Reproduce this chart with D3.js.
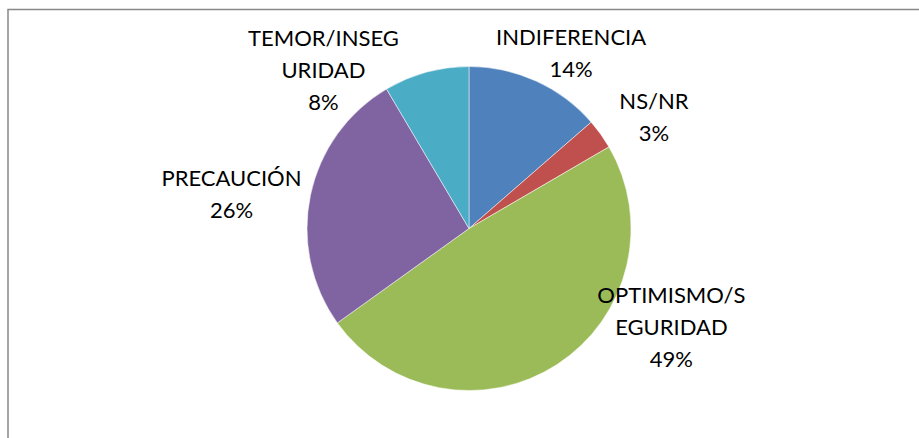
<!DOCTYPE html>
<html>
<head>
<meta charset="utf-8">
<script src="https://cdn.jsdelivr.net/npm/d3@7"></script>
<style>
  body { margin: 0; background: #fff; }
  svg text { font-family: Lato, "Liberation Sans", Arial, sans-serif; font-size: 22px; fill: #000; }
</style>
</head>
<body>
<div id="chart"></div>
<script>
// Data
var categories = ["INDIFERENCIA", "NS/NR", "OPTIMISMO/SEGURIDAD", "PRECAUCIÓN", "TEMOR/INSEGURIDAD"];
var values = [13.6, 3.0, 48.5, 26.4, 8.5];
var percentLabels = ["14%", "3%", "49%", "26%", "8%"];
// the category names as they wrap in the data labels
var labelLines = [["INDIFERENCIA"], ["NS/NR"], ["OPTIMISMO/S", "EGURIDAD"], ["PRECAUCIÓN"], ["TEMOR/INSEG", "URIDAD"]];
var colors = ["#4F81BD", "#C0504D", "#9BBB59", "#8064A2", "#4BACC6"];

// Label placement (angle in degrees clockwise from top, distance from center)
var labelPlace = [
    { angle: 30.2, dist: 203 },
    { angle: 58.9, dist: 216 },
    { angle: 115.9, dist: 225 },
    { angle: 278.3, dist: 240 },
    { angle: 317.4, dist: 215 }
];

var width = 919, height = 438;
var cx = 469, cy = 228.5, radius = 162;
var lineHeight = 32;

var svg = d3.select("#chart").append("svg")
    .attr("width", width)
    .attr("height", height);

// chart area frame (clipped at right and bottom)
svg.append("rect")
    .attr("x", 8)
    .attr("y", 9.5)
    .attr("width", 1000)
    .attr("height", 1000)
    .attr("fill", "none")
    .attr("stroke", "#888")
    .attr("stroke-width", 1.5);

var g = svg.append("g")
    .attr("transform", "translate(" + cx + "," + cy + ")");

var pie = d3.pie().sort(null).value(function(d) { return d; });
var arc = d3.arc().innerRadius(0).outerRadius(radius);

var arcs = pie(values);

g.selectAll(".slice")
    .data(arcs)
    .enter().append("path")
    .attr("class", "slice")
    .attr("d", arc)
    .attr("fill", function(d, i) { return colors[i]; })
    .attr("stroke", "#fff")
    .attr("stroke-width", 0.5);

// Data labels: category lines plus percentage
var labels = g.selectAll(".label")
    .data(arcs)
    .enter().append("text")
    .attr("class", "label")
    .attr("text-anchor", "middle")
    .attr("transform", function(d, i) {
        var a = labelPlace[i].angle * Math.PI / 180;
        var x = Math.sin(a) * labelPlace[i].dist;
        var y = -Math.cos(a) * labelPlace[i].dist;
        return "translate(" + x + "," + y + ")";
    });

labels.each(function(d, i) {
    var lines = labelLines[i].concat([percentLabels[i]]);
    var t = d3.select(this);
    var y0 = -(lines.length - 1) / 2 * lineHeight + 8;
    lines.forEach(function(s, j) {
        t.append("tspan")
            .attr("x", 0)
            .attr("y", y0 + j * lineHeight)
            .text(s);
    });
});
</script>
</body>
</html>
